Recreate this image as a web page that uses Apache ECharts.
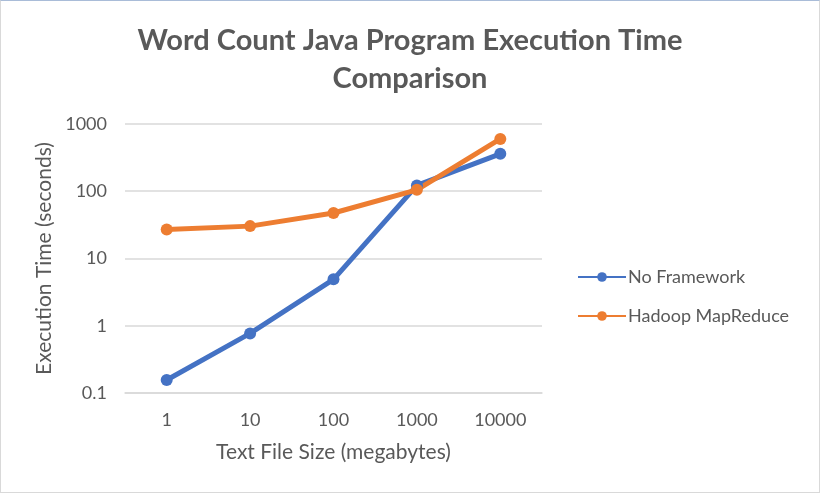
<!DOCTYPE html>
<html>
<head>
<meta charset="utf-8">
<script src="https://cdn.jsdelivr.net/npm/echarts@6/dist/echarts.min.js"></script>
<style>
  html, body { margin: 0; padding: 0; background: #fff; }
  #main { width: 818px; height: 491px; border: 1px solid #d9d9d9; border-top-color: #a9bcd8; }
</style>
</head>
<body>
<div id="main"></div>
<script>
var sizes = ['1', '10', '100', '1000', '10000'];
var noFramework = [0.156, 0.77, 4.9, 122, 360];
var hadoop = [27, 30.3, 47.5, 105, 600];

var textColor = '#595959';
var font = 'Lato';

var myChart = echarts.init(document.getElementById('main'));

myChart.setOption({
    title: {
        text: 'Word Count Java Program Execution Time\nComparison',
        left: 'center',
        top: 16,
        textStyle: {
            fontFamily: font,
            fontSize: 29,
            fontWeight: 'bold',
            color: textColor,
            lineHeight: 38
        }
    },
    legend: {
        orient: 'vertical',
        left: 571,
        top: 262,
        itemWidth: 48,
        itemHeight: 12,
        itemGap: 21,
        textStyle: {
            fontFamily: font,
            fontSize: 18,
            color: textColor,
            padding: [0, 0, 0, -3]
        },
        data: ['No Framework', 'Hadoop MapReduce']
    },
    grid: {
        left: 124,
        right: 277,
        top: 123,
        bottom: 99
    },
    xAxis: {
        type: 'category',
        data: sizes,
        name: 'Text File Size (megabytes)',
        nameLocation: 'middle',
        nameGap: 49,
        nameTextStyle: { fontFamily: font, fontSize: 21, color: textColor },
        axisLine: { lineStyle: { color: '#d9d9d9', width: 1.5 } },
        axisTick: { show: false },
        axisLabel: { fontFamily: font, fontSize: 18, color: textColor, margin: 18 }
    },
    yAxis: {
        type: 'log',
        logBase: 10,
        min: 0.1,
        max: 1000,
        name: 'Execution Time (seconds)',
        nameLocation: 'middle',
        nameGap: 69,
        nameTextStyle: { fontFamily: font, fontSize: 21, color: textColor },
        axisLine: { show: false },
        axisTick: { show: false },
        splitLine: { lineStyle: { color: '#d9d9d9', width: 1.5 } },
        axisLabel: {
            fontFamily: font,
            fontSize: 18,
            color: textColor,
            margin: 18,
            formatter: function (v) { return String(Math.round(v * 10) / 10); }
        }
    },
    series: [{
        name: 'No Framework',
        type: 'line',
        data: noFramework,
        symbol: 'circle',
        symbolSize: 12,
        color: '#4472C4',
        lineStyle: { width: 5 }
    }, {
        name: 'Hadoop MapReduce',
        type: 'line',
        data: hadoop,
        symbol: 'circle',
        symbolSize: 12,
        color: '#ED7D31',
        lineStyle: { width: 5 }
    }]
});
</script>
</body>
</html>
